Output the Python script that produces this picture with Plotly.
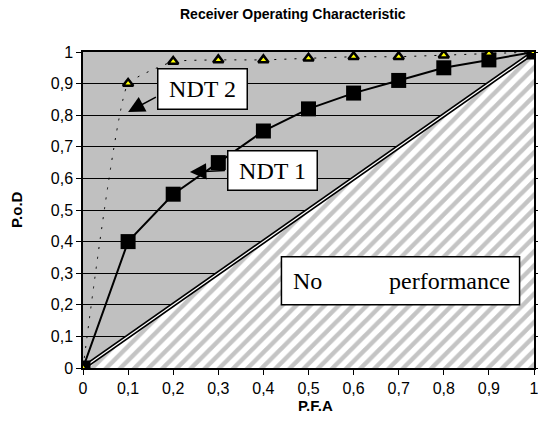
import plotly.graph_objects as go

pfa = [0, 0.1, 0.2, 0.3, 0.4, 0.5, 0.6, 0.7, 0.8, 0.9, 1.0]
ndt1 = [0, 0.40, 0.55, 0.65, 0.75, 0.82, 0.87, 0.91, 0.95, 0.975, 1.0]
ndt2 = [0, 0.90, 0.97, 0.975, 0.975, 0.98, 0.985, 0.985, 0.99, 0.995, 1.0]
tick_vals = [0, 0.1, 0.2, 0.3, 0.4, 0.5, 0.6, 0.7, 0.8, 0.9, 1.0]
tick_text = ["0", "0,1", "0,2", "0,3", "0,4", "0,5", "0,6", "0,7", "0,8", "0,9", "1"]
nope_x = [0, 1, 1, 0]
nope_y = [0, 0, 1, 0]
diag = [0, 1]

W, H = 538, 426
L, R, T, B = 83, 4, 52, 58
pw, ph = W - L - R, H - T - B

fig = go.Figure()
fig.add_trace(go.Scatter(x=nope_x, y=nope_y, mode="lines", fill="toself",
                         fillcolor="white", line=dict(width=0),
                         fillpattern=dict(shape="/", bgcolor="white", fgcolor="#8a8a8a",
                                          size=10, solidity=0.45),
                         hoverinfo="skip", showlegend=False))
fig.add_trace(go.Scatter(x=diag, y=diag, mode="lines", line=dict(color="black", width=4.5),
                         showlegend=False, hoverinfo="skip"))
fig.add_trace(go.Scatter(x=diag, y=diag, mode="lines", line=dict(color="white", width=1.2),
                         showlegend=False, hoverinfo="skip"))
fig.add_trace(go.Scatter(x=pfa, y=ndt2, mode="lines",
                         line=dict(color="black", width=1, dash="2px,8px", shape="spline", smoothing=0.35),
                         showlegend=False))
fig.add_trace(go.Scatter(x=pfa, y=ndt1, mode="lines+markers",
                         line=dict(color="black", width=2),
                         marker=dict(symbol="square", size=15, color="black"),
                         showlegend=False))
fig.add_trace(go.Scatter(x=pfa, y=ndt2, mode="markers",
                         marker=dict(symbol="triangle-up", size=9, color="#ffff00",
                                     line=dict(color="black", width=2.5)),
                         showlegend=False))

ann_font = dict(family="Liberation Serif, Times New Roman, serif", size=24, color="black")
sans = "Liberation Sans, Arial"
annotations = [
    dict(x=0.1, y=0.81, ax=0.165, ay=0.86, xref="x", yref="y", axref="x", ayref="y",
         text="", showarrow=True, arrowhead=2, arrowsize=2.2, arrowwidth=1.5, arrowcolor="black"),
    dict(x=0.264, y=0.883, xref="x", yref="y", text="NDT 2", showarrow=False, font=ann_font,
         width=80, height=31, bgcolor="white", bordercolor="black", borderwidth=1.5, borderpad=4),
    dict(x=0.237, y=0.62, ax=0.318, ay=0.625, xref="x", yref="y", axref="x", ayref="y",
         text="", showarrow=True, arrowhead=2, arrowsize=2.2, arrowwidth=1.5, arrowcolor="black"),
    dict(x=0.42, y=0.625, xref="x", yref="y", text="NDT 1", showarrow=False, font=ann_font,
         width=80, height=30, bgcolor="white", bordercolor="black", borderwidth=1.5, borderpad=4),
    dict(x=0.462, y=0.275, xref="x", yref="y", text="No", showarrow=False, font=ann_font,
         xanchor="left"),
    dict(x=0.952, y=0.275, xref="x", yref="y", text="performance", showarrow=False, font=ann_font,
         xanchor="right"),
    dict(x=(293 - L) / pw, y=(H - B - 14) / ph, xref="paper", yref="paper", yanchor="middle",
         text="<b>Receiver Operating Characteristic</b>", showarrow=False,
         font=dict(family=sans, size=14, color="black")),
    dict(x=(16 - L) / pw, y=0.5, xref="paper", yref="paper", textangle=-90,
         text="<b>P.o.D</b>", showarrow=False, xanchor="center", yanchor="middle",
         font=dict(family=sans, size=15, color="black")),
    dict(x=(315 - L) / pw, y=(H - B - 405) / ph, xref="paper", yref="paper",
         text="<b>P.F.A</b>", showarrow=False, xanchor="center", yanchor="middle",
         font=dict(family=sans, size=15, color="black")),
]

fig.update_layout(
    width=W, height=H,
    margin=dict(l=L, r=R, t=T, b=B, autoexpand=False),
    paper_bgcolor="white", plot_bgcolor="#c0c0c0",
    font=dict(family=sans, size=16, color="black"),
    annotations=annotations,
    shapes=[dict(type="rect", xref="x", yref="y", x0=0.44, x1=0.968, y0=0.2, y1=0.352,
                 fillcolor="white", line=dict(color="black", width=1.5), layer="above")],
    xaxis=dict(range=[0, 1], tickvals=tick_vals, ticktext=tick_text, showgrid=False,
               zeroline=False, showline=True, linecolor="black", linewidth=1.5, mirror=True,
               ticks="outside", ticklen=5, tickcolor="black", automargin=False,
               ticklabeloverflow="allow"),
    yaxis=dict(range=[0, 1], tickvals=tick_vals, ticktext=tick_text, showgrid=True,
               gridcolor="black", gridwidth=1, zeroline=False, showline=True, linecolor="black",
               linewidth=1.5, mirror="ticks", ticks="outside", ticklen=5, tickcolor="black",
               automargin=False, ticklabeloverflow="allow"),
)
fig.write_html("out.html", config={"displayModeBar": False},
               post_script="document.body.style.margin='0';document.body.style.overflow='hidden';")
